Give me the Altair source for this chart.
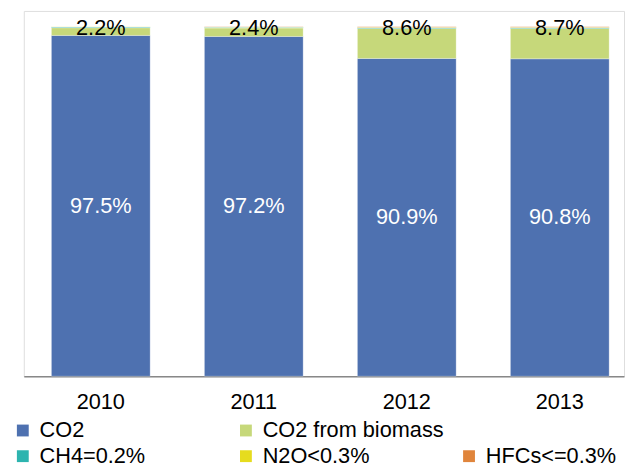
import altair as alt
import pandas as pd

years = ["2010", "2011", "2012", "2013"]
categories = ["CO2", "CO2 from biomass", "CH4=0.2%", "N2O<0.3%", "HFCs<=0.3%"]
co2 = [97.5, 97.2, 90.9, 90.8]
biomass = [2.2, 2.4, 8.6, 8.7]
ch4 = [0.2, 0.2, 0.2, 0.2]
n2o = [0.1, 0.1, 0.1, 0.1]
hfcs = [0.0, 0.1, 0.2, 0.2]

series = [co2, biomass, ch4, n2o, hfcs]
rows = []
for ci, (cat, vals) in enumerate(zip(categories, series)):
    for y, v in zip(years, vals):
        rows.append({"year": y, "category": cat, "value": v, "order": ci})
df = pd.DataFrame(rows)

labels = []
for i, y in enumerate(years):
    total = sum(s[i] for s in series)
    labels.append({"year": y, "text": f"{co2[i]}%", "pos": co2[i] / 2, "kind": "in"})
    labels.append({"year": y, "text": f"{biomass[i]}%", "pos": total, "kind": "top"})
ldf = pd.DataFrame(labels)

blank = " "
legend_domain = ["CO2", "CO2 from biomass", blank, "CH4=0.2%", "N2O<0.3%", "HFCs<=0.3%"]
legend_range = ["#4E71B0", "#C6D87A", "#FFFFFF", "#2DB4AF", "#E6DC1E", "#E0853C"]

FONT = "Liberation Sans"

x_enc = alt.X(
    "year:N",
    sort=years,
    title=None,
    scale=alt.Scale(paddingInner=0.355, paddingOuter=0.139, align=0.65),
    axis=alt.Axis(
        labelAngle=0,
        ticks=False,
        labelFontSize=22,
        labelFont=FONT,
        labelColor="#000000",
        labelPadding=16,
        domainColor="#888888",
        domainWidth=1.5,
        grid=False,
    ),
)
y_scale = alt.Scale(domain=[0, 104.5], nice=False)

bars = alt.Chart(df).mark_bar(
    size=100, stroke="#FFFFFF", strokeWidth=0.8, strokeOpacity=0.35
).encode(
    x=x_enc,
    y=alt.Y("value:Q", stack="zero", scale=y_scale, axis=None),
    color=alt.Color(
        "category:N",
        scale=alt.Scale(domain=legend_domain, range=legend_range),
        legend=alt.Legend(
            title=None,
            orient="none",
            legendX=-12,
            legendY=414,
            direction="horizontal",
            columns=3,
            gridAlign="all",
            columnPadding=14,
            rowPadding=4,
            symbolType="square",
            symbolSize=144,
            symbolStrokeWidth=0,
            labelFontSize=22,
            labelFont=FONT,
            labelColor="#000000",
            labelOffset=6,
            labelLimit=400,
            padding=0,
        ),
    ),
    order=alt.Order("order:Q", sort="ascending"),
)

text_in = alt.Chart(ldf).transform_filter("datum.kind == 'in'").mark_text(
    fontSize=22, font=FONT, color="#FFFFFF", baseline="middle"
).encode(
    x=alt.X("year:N", sort=years),
    y=alt.Y("pos:Q", scale=y_scale),
    text="text:N",
)

text_top = alt.Chart(ldf).transform_filter("datum.kind == 'top'").mark_text(
    fontSize=22, font=FONT, color="#000000", baseline="middle", dy=1
).encode(
    x=alt.X("year:N", sort=years),
    y=alt.Y("pos:Q", scale=y_scale),
    text="text:N",
)

chart = (
    alt.layer(bars, text_in, text_top)
    .properties(
        width=608,
        height=370,
        padding={"left": 16, "top": 0, "right": 1, "bottom": 90},
        autosize=alt.AutoSizeParams(type="none"),
    )
    .configure_view(stroke=None)
    .configure(background="#FFFFFF")
)

chart.save("out.html", embed_options={"renderer": "svg", "actions": False})
